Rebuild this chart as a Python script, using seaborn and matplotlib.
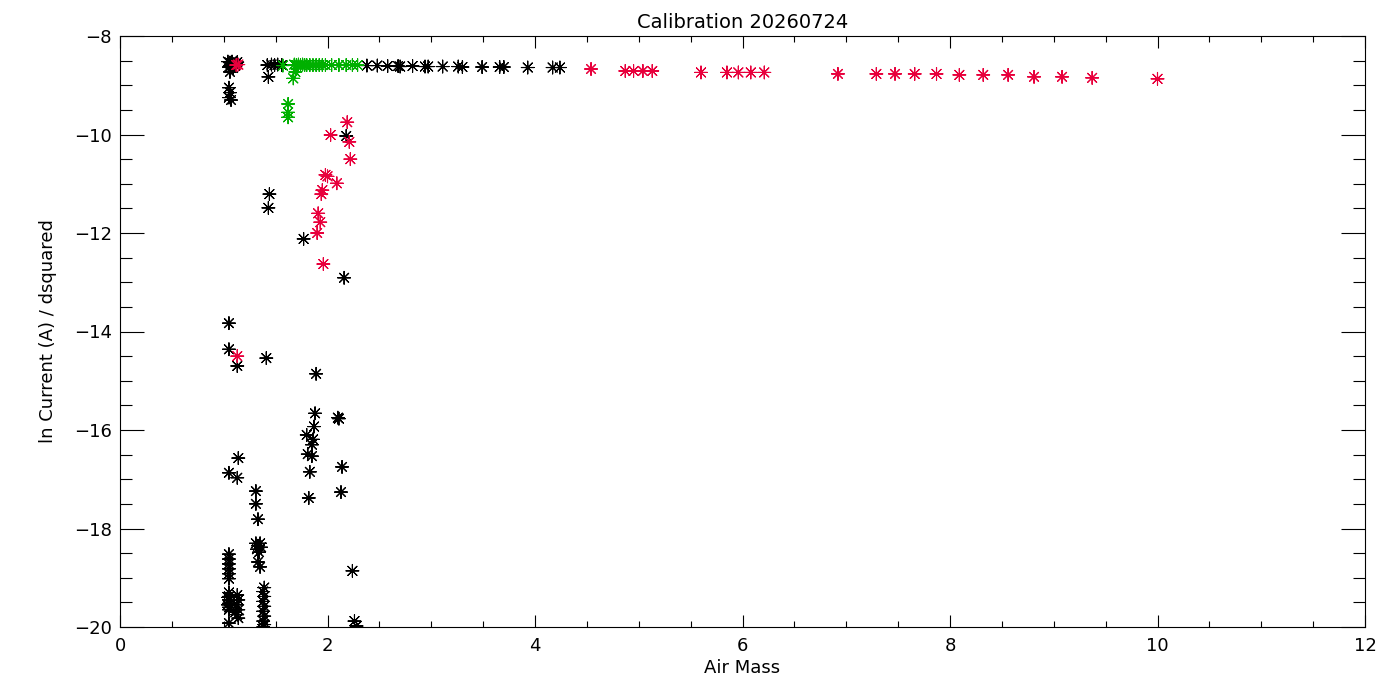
import numpy as np
import pandas as pd
import matplotlib
matplotlib.use("Agg")
import matplotlib.pyplot as plt
from matplotlib.ticker import MultipleLocator
import seaborn as sns

# Values
black_x = [1.04, 1.06, 1.08, 1.10, 1.12, 1.05, 1.07, 1.09, 1.11, 1.13, 1.06,
           1.05, 1.06, 1.05, 1.07,
           1.42, 1.46, 1.49, 1.52, 1.56, 1.43,
           2.38, 2.48, 2.58, 2.68, 2.70, 2.82, 2.94, 2.97, 3.11, 3.26, 3.30,
           3.49, 3.66, 3.70, 3.93, 4.17, 4.24,
           2.18, 1.44, 1.43, 1.77, 2.16, 1.05, 1.05, 1.13, 1.41, 1.89,
           1.88, 2.10, 2.11, 1.87, 1.80, 1.86, 1.85, 1.81, 1.85, 1.14,
           2.14, 1.83, 1.05, 1.13, 1.31, 2.13, 1.82, 1.31, 1.33,
           1.31, 1.33, 1.35, 1.32, 1.34, 1.36, 1.33, 1.35, 2.24,
           1.05, 1.05, 1.05, 1.05, 1.05, 1.05, 1.05, 1.05, 1.05, 1.05,
           1.05, 1.05, 1.05, 1.04, 1.04,
           1.13, 1.14, 1.13, 1.14, 1.13, 1.14, 1.11,
           1.39, 1.38, 1.39, 1.38, 1.39, 1.38, 1.39, 1.38, 1.39, 1.38,
           2.26, 2.28]
black_y = [-8.52, -8.54, -8.52, -8.58, -8.55, -8.63, -8.60, -8.65, -8.60, -8.53, -8.73,
           -9.05, -9.15, -9.25, -9.30,
           -8.59, -8.58, -8.59, -8.58, -8.59, -8.83,
           -8.60, -8.60, -8.61, -8.61, -8.62, -8.61, -8.62, -8.62, -8.62, -8.62, -8.63,
           -8.63, -8.63, -8.63, -8.64, -8.64, -8.64,
           -10.03, -11.21, -11.49, -12.12, -12.91, -13.83, -14.36, -14.70, -14.54, -14.86,
           -15.66, -15.75, -15.77, -15.93, -16.10, -16.19, -16.30, -16.49, -16.53, -16.57,
           -16.75, -16.85, -16.87, -16.97, -17.24, -17.26, -17.38, -17.50, -17.81,
           -18.30, -18.35, -18.30, -18.42, -18.48, -18.38, -18.68, -18.78, -18.86,
           -18.52, -18.62, -18.72, -18.82, -18.92, -19.02, -19.30, -19.38, -19.45, -19.52,
           -19.60, -19.65, -19.92, -19.40, -19.55,
           -19.35, -19.45, -19.55, -19.65, -19.75, -19.82, -19.70,
           -19.20, -19.28, -19.38, -19.48, -19.58, -19.68, -19.78, -19.88, -19.95, -20.00,
           -19.88, -19.98]

red_x = [1.12, 1.14, 1.13,
         2.19, 2.03, 2.21, 2.22, 1.98, 2.00, 2.09, 1.95, 1.94, 1.91, 1.93, 1.90, 1.96,
         4.54, 4.87, 4.95, 5.04, 5.13, 5.60, 5.85, 5.96, 6.08, 6.21, 6.92, 7.29,
         7.47, 7.66, 7.87, 8.09, 8.32, 8.56, 8.81, 9.08, 9.37, 10.0]
red_y = [-8.59, -8.58, -14.50,
         -9.75, -10.01, -10.15, -10.50, -10.82, -10.85, -10.99, -11.13, -11.21, -11.60,
         -11.78, -12.00, -12.63,
         -8.67, -8.71, -8.71, -8.71, -8.71, -8.74, -8.74, -8.74, -8.74, -8.74, -8.77,
         -8.77, -8.77, -8.77, -8.77, -8.79, -8.79, -8.79, -8.83, -8.83, -8.85, -8.87]

green_x = [1.57, 1.68, 1.70, 1.72, 1.74, 1.76, 1.78, 1.80, 1.83, 1.86, 1.89, 1.92,
           1.95, 1.98, 2.04, 2.11, 2.18, 2.24, 2.29,
           1.69, 1.67, 1.62, 1.62, 1.62]
green_y = [-8.60, -8.58, -8.59, -8.58, -8.59, -8.58, -8.59, -8.59, -8.59, -8.59, -8.59,
           -8.59, -8.59, -8.59, -8.59, -8.59, -8.59, -8.59, -8.59,
           -8.73, -8.86, -9.38, -9.55, -9.65]

colors = {"black": "#000000", "red": "#E8003C", "green": "#00B000"}

df = pd.concat([
    pd.DataFrame({"airmass": black_x, "current": black_y, "group": "black"}),
    pd.DataFrame({"airmass": red_x, "current": red_y, "group": "red"}),
    pd.DataFrame({"airmass": green_x, "current": green_y, "group": "green"}),
], ignore_index=True)

sns.set_style("white")
plt.rcParams["font.family"] = ["DejaVu Sans"]
plt.rcParams["text.color"] = "black"
plt.rcParams["axes.labelcolor"] = "black"

fig = plt.figure(figsize=(14, 7), dpi=100)
ax = fig.add_axes([120 / 1400, 73 / 700, 1245 / 1400, 591 / 700])

sns.scatterplot(data=df, x="airmass", y="current", hue="group", palette=colors,
                marker=(8, 2, 0), s=85, linewidth=0.8, legend=False, ax=ax)

ax.set_xlim(0, 12)
ax.set_ylim(-20, -8)
ax.xaxis.set_major_locator(MultipleLocator(2))
ax.xaxis.set_minor_locator(MultipleLocator(0.5))
ax.yaxis.set_major_locator(MultipleLocator(2))
ax.yaxis.set_minor_locator(MultipleLocator(0.5))

ax.tick_params(axis="both", which="both", direction="in", top=True, right=True,
               bottom=True, left=True, width=0.8, colors="black", labelsize=13)
ax.tick_params(axis="x", which="major", length=8.6, pad=7)
ax.tick_params(axis="x", which="minor", length=4.3)
ax.tick_params(axis="y", which="major", length=17, pad=6)
ax.tick_params(axis="y", which="minor", length=8.6)

for sp in ax.spines.values():
    sp.set_color("black")
    sp.set_linewidth(0.8)

ax.set_xlabel("Air Mass", fontsize=13, labelpad=3)
ax.set_ylabel("ln Current (A) / dsquared", fontsize=13, labelpad=12)
ax.set_title("Calibration 20260724", fontsize=14, pad=6, color="black")

fig.savefig("out.png", dpi=100)
